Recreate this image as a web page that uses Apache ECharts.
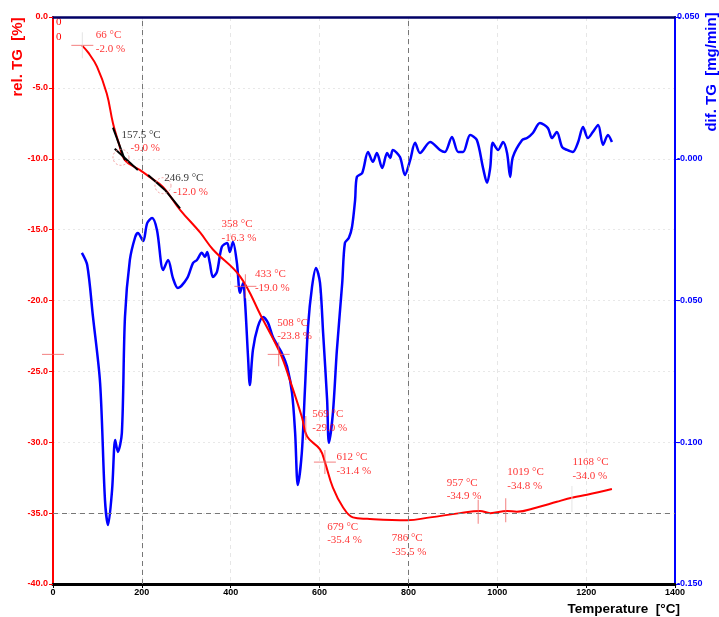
<!DOCTYPE html>
<html>
<head>
<meta charset="utf-8">
<script src="https://cdn.jsdelivr.net/npm/echarts@6/dist/echarts.min.js"></script>
<style>
html,body{margin:0;padding:0;background:#fff}
#main{width:719px;height:617px}
</style>
</head>
<body>
<div id="main"></div>
<script>
// rel. TG curve (temperature in °C, mass change in %)
var tgTemp = [65, 79, 99, 121, 135, 148, 162, 196, 218, 248, 286, 331, 360, 421, 470, 511, 533, 560, 572, 601, 612, 630, 653, 675, 707, 797, 849, 916, 961, 984, 1022, 1044, 1089, 1134, 1170, 1202, 1258];
var tgMass = [-2.0, -2.5, -3.5, -5.4, -7.5, -8.9, -10.1, -10.8, -11.3, -12.0, -13.6, -15.2, -16.4, -18.3, -21.2, -23.7, -25.6, -28.2, -29.6, -30.5, -31.4, -33.2, -34.6, -35.3, -35.4, -35.5, -35.3, -35.0, -34.85, -35.0, -34.85, -34.9, -34.6, -34.2, -33.9, -33.7, -33.3];

// dif. TG curve (mg/min)
var dtgTemp = [65, 77, 90, 106, 117, 124, 133, 140, 146, 155, 162, 173, 185, 191, 203, 212, 223, 234, 248, 259, 270, 281, 302, 315, 324, 335, 342, 347, 353, 360, 369, 380, 392, 398, 405, 414, 421, 428, 432, 439, 443, 450, 461, 473, 484, 495, 515, 527, 538, 545, 551, 560, 567, 574, 583, 592, 601, 608, 617, 621, 630, 639, 651, 657, 666, 673, 680, 684, 696, 709, 720, 729, 741, 752, 759, 765, 781, 792, 804, 815, 826, 849, 871, 882, 898, 912, 923, 939, 954, 968, 977, 984, 990, 1002, 1013, 1022, 1029, 1035, 1056, 1067, 1080, 1096, 1114, 1123, 1134, 1146, 1157, 1170, 1182, 1193, 1204, 1215, 1227, 1238, 1249, 1258];
var dtgRate = [-0.0332, -0.0375, -0.0558, -0.0791, -0.1204, -0.1292, -0.1168, -0.0992, -0.1034, -0.0967, -0.0558, -0.0357, -0.0276, -0.0262, -0.0290, -0.0227, -0.0209, -0.0251, -0.0392, -0.0357, -0.0421, -0.0456, -0.0421, -0.0368, -0.0357, -0.0332, -0.0346, -0.0329, -0.0368, -0.0417, -0.0399, -0.0311, -0.0297, -0.0329, -0.0294, -0.0368, -0.0473, -0.0438, -0.0498, -0.0699, -0.0798, -0.0674, -0.0593, -0.0558, -0.0579, -0.0629, -0.0685, -0.0734, -0.0826, -0.0967, -0.1151, -0.1038, -0.0816, -0.0593, -0.0452, -0.0385, -0.0438, -0.0615, -0.0851, -0.1002, -0.0897, -0.0674, -0.0438, -0.0297, -0.0279, -0.0241, -0.0145, -0.0064, -0.0050, 0.0024, -0.0011, 0.0020, -0.0033, 0.0020, 0.0003, 0.0031, 0.0006, -0.0057, -0.0004, 0.0056, 0.0020, 0.0059, 0.0031, 0.0024, 0.0077, 0.0024, 0.0024, 0.0084, 0.0066, -0.0033, -0.0085, -0.0033, 0.0056, 0.0031, 0.0059, 0.0020, -0.0064, 0.0006, 0.0066, 0.0073, 0.0091, 0.0126, 0.0108, 0.0073, 0.0094, 0.0041, 0.0031, 0.0024, 0.0059, 0.0112, 0.0073, 0.0094, 0.0119, 0.0049, 0.0084, 0.0059];

// evaluated points
var annTemp = [66, 157.5, 246.9, 358, 433, 508, 569, 612, 679, 786, 957, 1019, 1168];
var annMass = [-2.0, -9.0, -12.0, -16.3, -19.0, -23.8, -29.0, -31.4, -35.4, -35.5, -34.9, -34.8, -34.0];

// onset tangents and inflection circles
var tangents = [
  [[135, -7.8], [162, -10.1]],
  [[139, -9.3], [191, -10.8]],
  [[214, -11.15], [252, -12.2]],
  [[252, -12.2], [286, -13.5]]
];
var inflectT = [153, 247.6];
var inflectM = [-9.9, -11.9];

// marker crosses
var crossT = [66, 433, 508, 612, 0];
var crossM = [-2.0, -19.0, -23.8, -31.4, -23.8];
var tickT = [433, 508, 612, 569, 957, 1019];
var tickM = [-19.0, -23.8, -31.4, -29.0, -34.9, -34.8];
var faintT = [66, 1168];
var faintM = [-2.0, -34.0];

// label offsets in px (layout only)
var labelOffset = [[14, -16], [-1, -16], [2, -15], [10, -30], [10, -18], [-1, -38], [7, -20], [12, -11], [-27, 2], [-10, 12], [-31, -35], [2, -44], [1, -43]];

function zip(a, b) { return a.map(function (v, i) { return [v, b[i]]; }); }

var serif = '"Liberation Serif", "Times New Roman", serif';
var sans = '"Liberation Sans Narrow", "Liberation Sans", Arial, sans-serif';

var annData = annTemp.map(function (t, i) {
  var tangent = (i === 1 || i === 2);
  return {
    value: [t, annMass[i]],
    label: {
      position: labelOffset[i],
      formatter: (tangent ? '{k|' : '{r|') + t + ' \u00b0C}\n' + (tangent ? '{ri|' : '{r|') + annMass[i].toFixed(1) + ' %}'
    }
  };
});

var series = [
  {
    name: 'dif. TG', type: 'line', yAxisIndex: 1, showSymbol: false, smooth: 0.3,
    data: zip(dtgTemp, dtgRate),
    lineStyle: { color: '#0000ff', width: 2.5 }, z: 3
  },
  {
    name: 'rel. TG', type: 'line', yAxisIndex: 0, showSymbol: false, smooth: 0.4,
    data: zip(tgTemp, tgMass),
    lineStyle: { color: '#ff0000', width: 2 }, z: 4,
    markLine: {
      silent: true, symbol: 'none', label: { show: false },
      lineStyle: { color: '#777', type: [5, 4], width: 1 },
      data: [{ yAxis: -35 }, { xAxis: 200 }, { xAxis: 800 }]
    }
  }
];

tangents.forEach(function (seg) {
  series.push({
    type: 'line', showSymbol: false, data: seg, z: 5,
    lineStyle: { color: '#000', width: 2 }
  });
});

series.push({
  type: 'scatter', data: zip(inflectT, inflectM), symbol: 'circle', symbolSize: 16, z: 5,
  itemStyle: { color: 'transparent', borderColor: '#f08a8a', borderWidth: 1, borderType: [2, 2] }
});
series.push({
  type: 'scatter', data: zip(crossT, crossM), symbol: 'rect', symbolSize: [22, 1], clip: false, z: 5,
  itemStyle: { color: '#f06060', opacity: 0.8 }
});
series.push({
  type: 'scatter', data: zip(tickT, tickM), symbol: 'rect', symbolSize: [1, 24], clip: false, z: 5,
  itemStyle: { color: '#f06060', opacity: 0.8 }
});
series.push({
  type: 'scatter', data: zip(faintT, faintM), symbol: 'rect', symbolSize: [1, 26], z: 5,
  itemStyle: { color: '#ddd' }
});
series.push({
  type: 'scatter', data: annData, symbol: 'circle', symbolSize: 1, z: 6,
  itemStyle: { color: 'transparent' },
  label: {
    show: true,
    rich: {
      r: { color: '#ff0000', fontFamily: serif, fontSize: 11, lineHeight: 13.5 },
      ri: { color: '#ff0000', fontFamily: serif, fontSize: 11, lineHeight: 13.5, padding: [0, 0, 0, 9] },
      k: { color: '#000', fontFamily: serif, fontSize: 11, lineHeight: 13.5 }
    }
  }
});

var chart = echarts.init(document.getElementById('main'));
chart.setOption({
  animation: false,
  backgroundColor: '#fff',
  grid: { left: 53, right: 44, top: 17, bottom: 33, outerBoundsMode: 'none' },
  xAxis: [
    {
      type: 'value', min: 0, max: 1400, interval: 200, position: 'bottom',
      axisLine: { onZero: false, lineStyle: { color: '#000', width: 3 } },
      axisTick: { show: true, length: 4, lineStyle: { color: '#000' } },
      axisLabel: { color: '#000', fontFamily: sans, fontWeight: 'bold', fontSize: 9, margin: 4,
        formatter: function (v) { return String(v); } },
      splitLine: { show: true, lineStyle: { color: '#e6e6e6', type: [4, 4] } }
    },
    {
      type: 'value', position: 'top', min: 0, max: 1400,
      axisLine: { show: true, onZero: false, lineStyle: { color: '#000066', width: 2.5 } },
      axisTick: { show: false }, axisLabel: { show: false }, splitLine: { show: false }
    }
  ],
  yAxis: [
    {
      type: 'value', min: -40, max: 0, interval: 5, position: 'left',
      axisLine: { show: true, onZero: false, lineStyle: { color: '#ff0000', width: 2 } },
      axisTick: { show: true, length: 4, lineStyle: { color: '#ff0000' } },
      axisLabel: {
        color: '#ff0000', fontFamily: sans, fontWeight: 'bold', fontSize: 9, margin: 5,
        formatter: function (v) { return v.toFixed(1); }
      },
      splitLine: { show: true, lineStyle: { color: '#e8e8e8', type: [2, 3] } }
    },
    {
      type: 'value', min: -0.15, max: 0.05, interval: 0.05, position: 'right',
      axisLine: { show: true, onZero: false, lineStyle: { color: '#0000ff', width: 2 } },
      axisTick: { show: true, length: 5, lineStyle: { color: '#0000ff' } },
      axisLabel: {
        color: '#0000ff', fontFamily: sans, fontWeight: 'bold', fontSize: 9, margin: 2,
        formatter: function (v) { return Math.abs(v) < 1e-9 ? '-0.000' : v.toFixed(3); }
      },
      splitLine: { show: false }
    }
  ],
  graphic: [
    { type: 'text', x: 18, y: 57, rotation: Math.PI / 2,
      style: { text: 'rel. TG  [%]', fill: '#ff0000', font: 'bold 15px ' + sans, textAlign: 'center', textVerticalAlign: 'middle' } },
    { type: 'text', x: 712, y: 72, rotation: Math.PI / 2,
      style: { text: 'dif. TG  [mg/min]', fill: '#0000ff', font: 'bold 15px ' + sans, textAlign: 'center', textVerticalAlign: 'middle' } },
    { type: 'text', x: 680, y: 609,
      style: { text: 'Temperature  [\u00b0C]', fill: '#000', font: 'bold 13.5px ' + sans, textAlign: 'right', textVerticalAlign: 'middle' } },
    { type: 'text', x: 56, y: 22,
      style: { text: '0', fill: '#ff0000', font: '11px ' + serif, textVerticalAlign: 'middle' } },
    { type: 'text', x: 56, y: 37,
      style: { text: '0', fill: '#ff0000', font: '11px ' + serif, textVerticalAlign: 'middle' } }
  ],
  series: series
});
</script>
</body>
</html>
